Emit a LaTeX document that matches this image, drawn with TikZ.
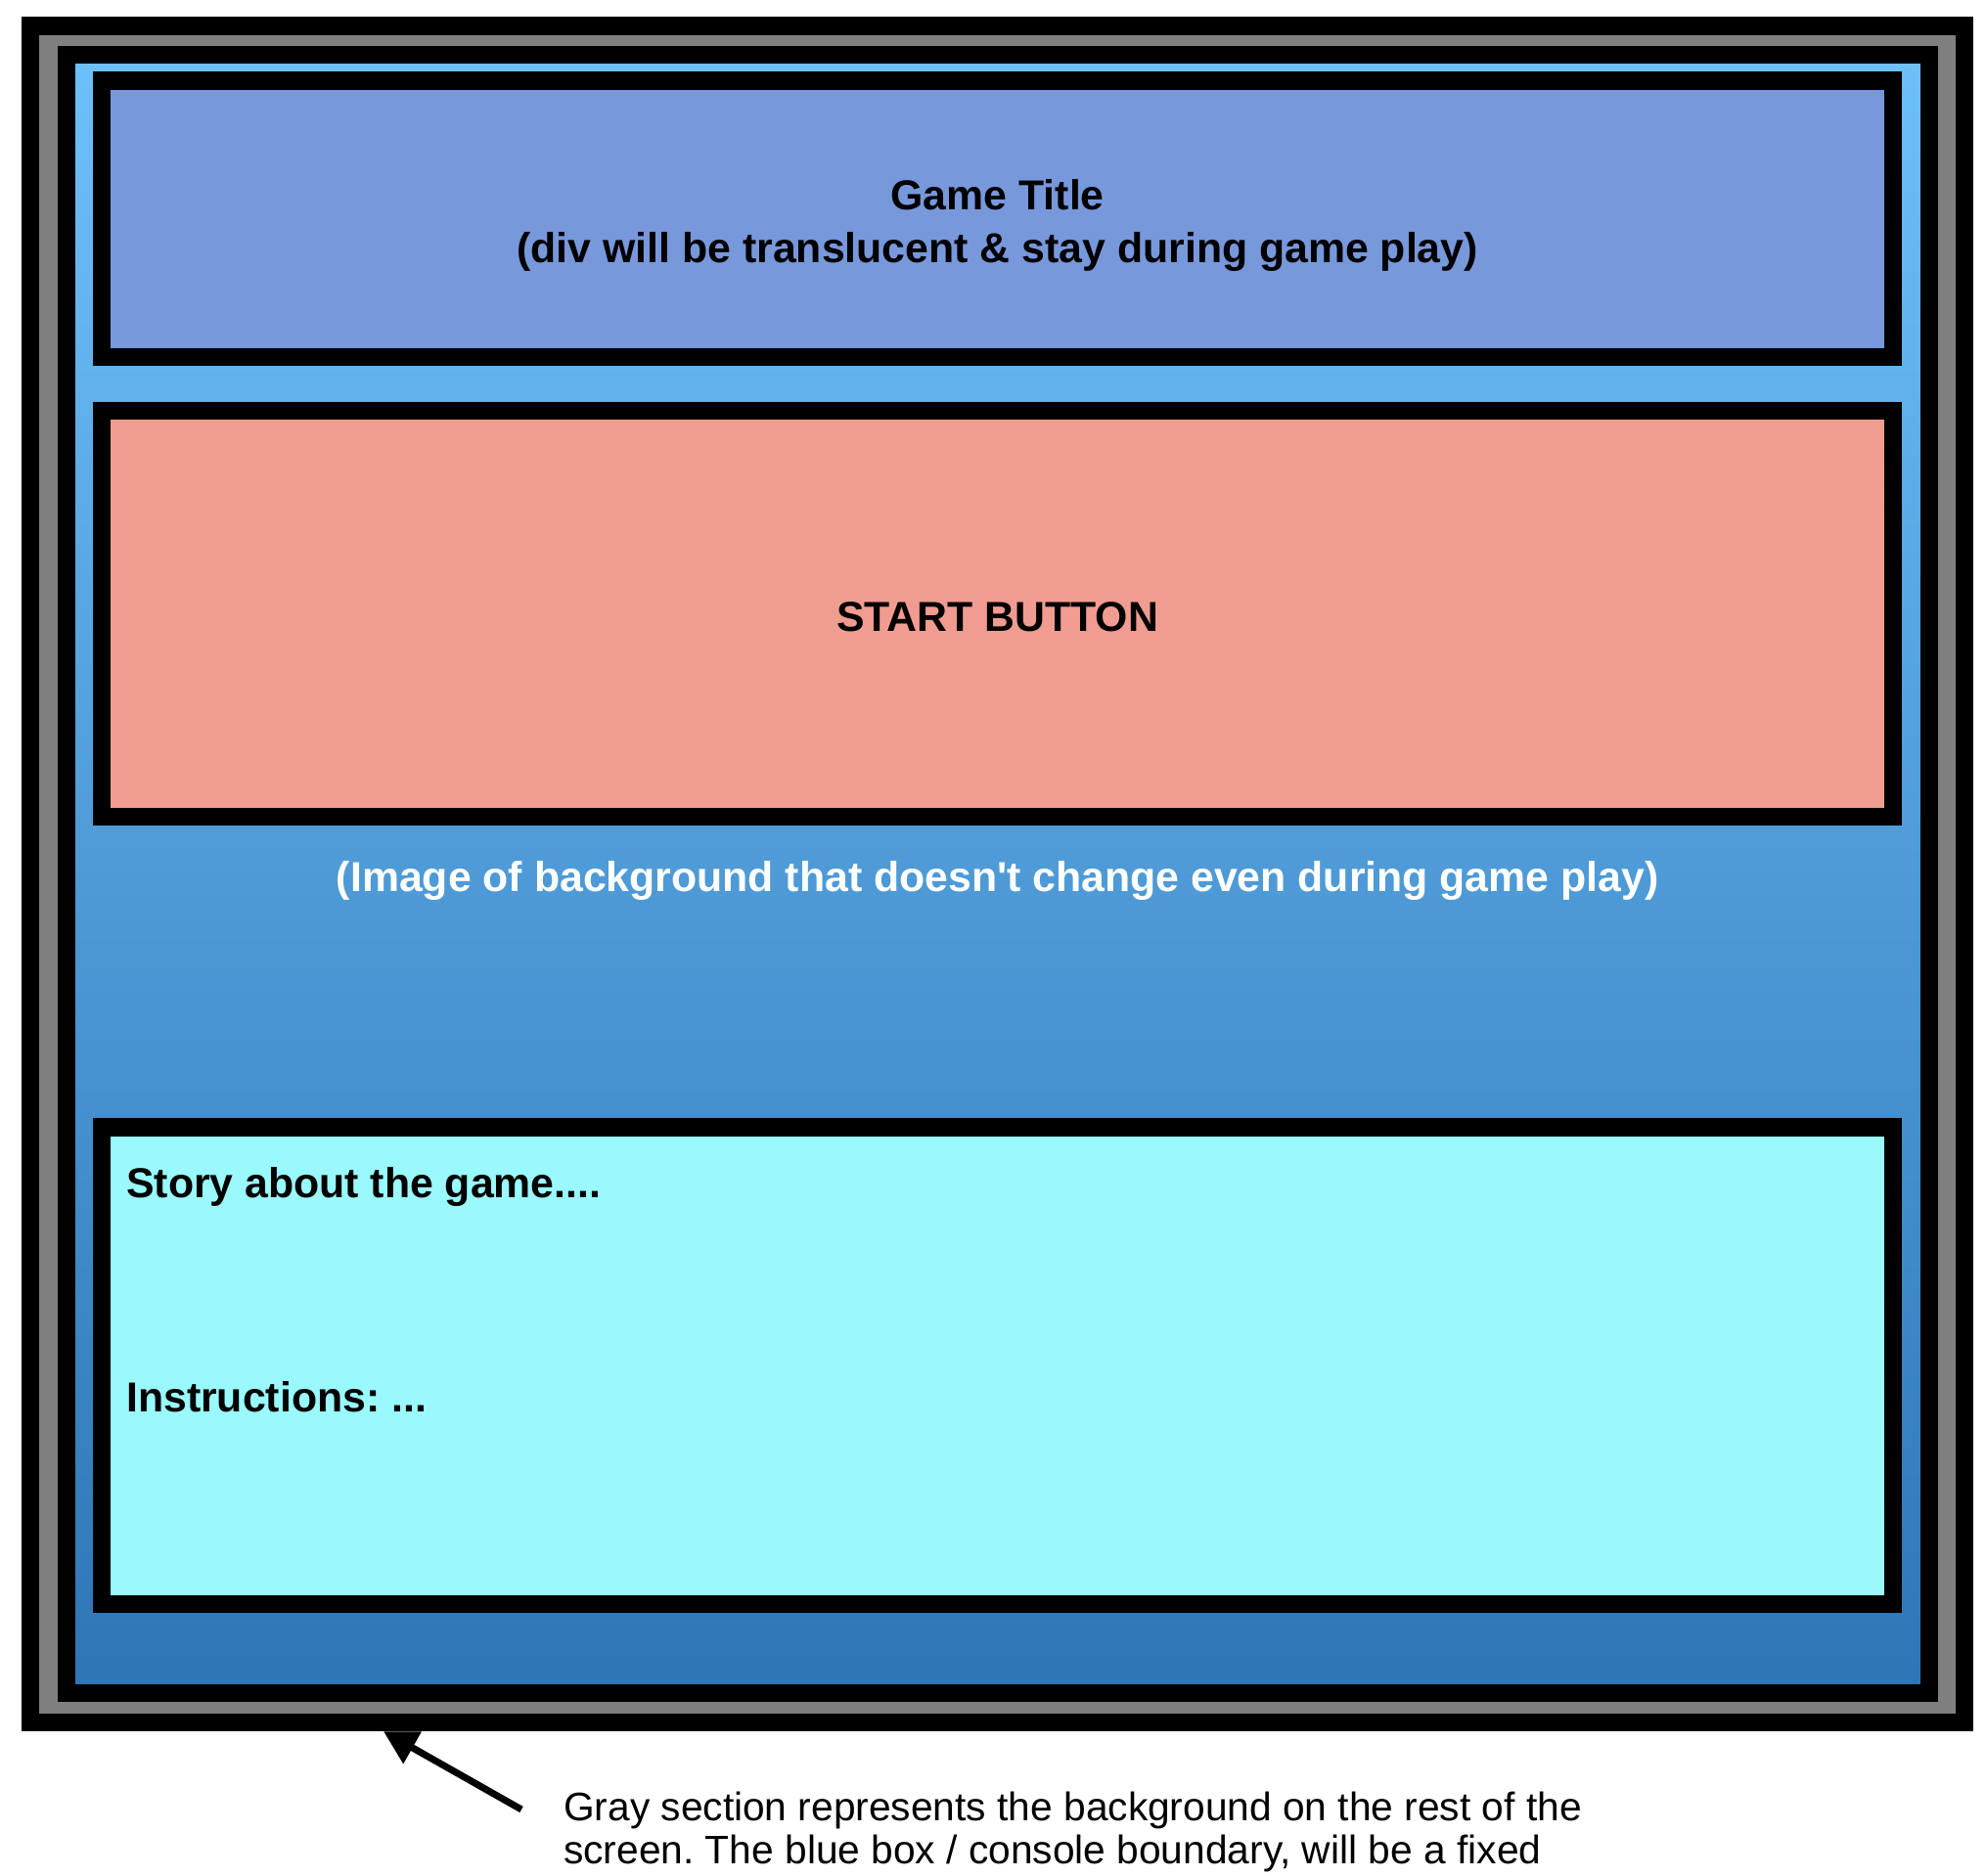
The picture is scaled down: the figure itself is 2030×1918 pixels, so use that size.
\documentclass[tikz,border=0pt]{standalone}
\usepackage{fontspec}
\setmainfont{Liberation Sans}[Ligatures=TeXOff]
\usetikzlibrary{arrows.meta}
\frenchspacing

\definecolor{screengray}{HTML}{7F7F7F}
\definecolor{consoletop}{RGB}{110,192,248}
\definecolor{consolebottom}{RGB}{46,117,182}
\definecolor{titlefill}{HTML}{7898DC}
\definecolor{startfill}{HTML}{F19C91}
\definecolor{storyfill}{HTML}{99F9FD}

\begin{document}
\begin{tikzpicture}[x=1pt,y=-1pt,
  frame/.style={rectangle, draw=black, line width=18.4pt, inner sep=0pt},
  panel/.style={frame, minimum width=1831pt},
  label/.style={inner sep=0pt, align=center,
    font=\fontsize{42.8}{54}\selectfont\bfseries},
  note/.style={inner sep=0pt, anchor=base west, font=\fontsize{40.7}{44}\selectfont},
  pointer/.style={line width=7pt, -{Triangle[length=34pt,width=36pt]}}
]
\useasboundingbox (0,0) rectangle (2030,1918);

% surrounding screen (gray) and the console area (blue gradient)
\node[frame, fill=screengray, minimum width=1977pt, minimum height=1734.3pt]
  (screen) at (1019.5,893.75) {};
\node[frame, top color=consoletop, bottom color=consolebottom,
  minimum width=1904.1pt, minimum height=1674.8pt]
  (console) at (1019.75,893.4) {};

% panels inside the console
\node[panel, fill=titlefill, minimum height=282.7pt] (title) at (1019.7,223.85) {};
\node[panel, fill=startfill, minimum height=414.6pt] (start) at (1019.7,627.5) {};
\node[panel, fill=storyfill, minimum height=487.3pt] (story) at (1019.7,1396.15) {};

\node[label] (titletext) at (1019.7,230.5)
  {Game Title\\(div will be translucent \& stay during game play)};
\node[label] (starttext) at (1019.7,630.5) {START BUTTON};
\node[label, text=white, anchor=base] (bgnote) at (1019.7,911)
  {(Image of background that doesn't change even during game play)};
\node[label, anchor=base west] (storytext) at (129,1224) {Story about the game....};
\node[label, anchor=base west] (instr) at (129,1443) {Instructions: ...};

% explanatory note with pointer to the gray border
\node[note] (noteA) at (576,1861.7)
  {Gray section represents the background on the rest of the};
\node[note] (noteB) at (576,1905.7)
  {screen. The blue box / console boundary, will be a fixed};
\coordinate (tail) at (533,1850);
\coordinate (tipx) at (392,0);
\draw[pointer] (tail) -- (tipx |- screen.south);
\end{tikzpicture}
\end{document}
